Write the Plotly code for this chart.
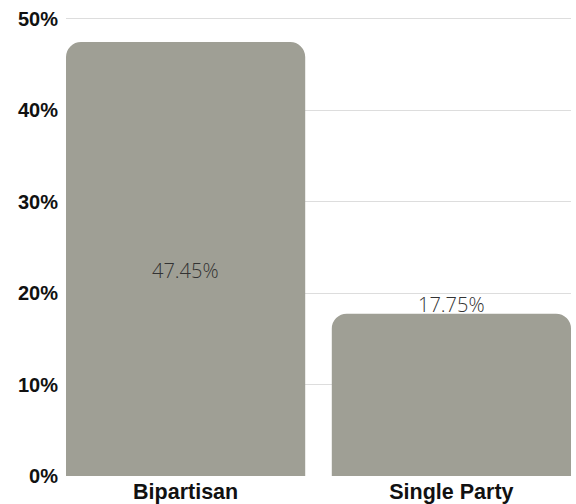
import plotly.graph_objects as go

categories = ["Bipartisan", "Single Party"]
values = [47.45, 17.75]
value_labels = ["47.45%", "17.75%"]
y_ticks = [0, 10, 20, 30, 40, 50]
y_tick_labels = ["0%", "10%", "20%", "30%", "40%", "50%"]

fig = go.Figure(
    go.Bar(
        x=categories,
        y=values,
        marker=dict(color="#9f9f95", line=dict(width=0)),
        hoverinfo="skip",
    )
)

label_font = dict(family="Open Sans", size=20, weight=300, color="#333333")
# first label sits inside the bar, second one rests on top of its bar
fig.add_annotation(x=categories[0], y=values[0] / 2, text=value_labels[0],
                   showarrow=False, yanchor="middle", yshift=-11, font=label_font)
fig.add_annotation(x=categories[1], y=values[1], text=value_labels[1],
                   showarrow=False, yanchor="middle", yshift=9, font=label_font)

fig.update_layout(
    width=576,
    height=504,
    margin=dict(l=66, r=5, t=16, b=28),
    paper_bgcolor="white",
    plot_bgcolor="white",
    bargap=0.1,
    barcornerradius=15,
    showlegend=False,
)

fig.update_xaxes(
    range=[-0.45, 1.45],
    automargin=False,
    showgrid=False,
    showline=False,
    zeroline=False,
    ticks="",
    ticklabelstandoff=0,
    tickfont=dict(family="Liberation Sans", size=21.5, weight="bold", color="#111111"),
)

fig.update_yaxes(
    range=[0, 50.3],
    automargin=False,
    tickmode="array",
    tickvals=y_ticks,
    ticktext=y_tick_labels,
    showgrid=True,
    gridcolor="#dddddd",
    gridwidth=1,
    zeroline=False,
    showline=False,
    ticks="",
    ticklabelstandoff=7,
    tickfont=dict(family="Liberation Sans", size=20, weight="bold", color="#111111"),
)

fig.write_html("out.html")
